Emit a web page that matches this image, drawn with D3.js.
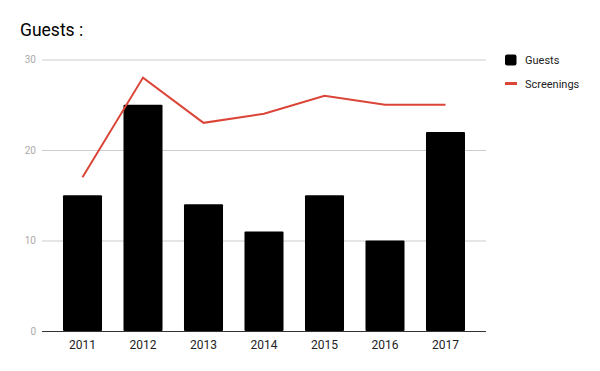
<!DOCTYPE html>
<html>
<head>
<meta charset="utf-8">
<script src="https://cdn.jsdelivr.net/npm/d3@7"></script>
<style>
  body { margin: 0; background: #fff; }
  text { font-family: Roboto, Arial, sans-serif; }
</style>
</head>
<body>
<svg id="chart" width="600" height="371"></svg>
<script>
// Chart data
var years = ['2011', '2012', '2013', '2014', '2015', '2016', '2017'],
    guests = [15, 25, 14, 11, 15, 10, 22],
    screenings = [17, 28, 23, 24, 26, 25, 25],
    yTicks = [0, 10, 20, 30]

var svg = d3.select('#chart')

var plotLeft = 42,
    plotRight = 486,
    plotTop = 59.5,
    plotBottom = 331

var xScale = d3.scaleBand().domain(years).range([plotLeft, plotRight]).paddingInner(0.355).paddingOuter(0.347),
    yScale = d3.scaleLinear().domain([0, 30]).range([plotBottom, plotTop])

// Title
svg.append('text')
    .attr('x', 20)
    .attr('y', 36)
    .style('font-size', '17.5px')
    .style('fill', '#000')
    .text('Guests :')

// Gridlines
var yAxis = svg.append('g')
    .attr('transform', `translate(${plotLeft},0)`)
    .call(d3.axisLeft(yScale).tickValues(yTicks).tickSize(-(plotRight - plotLeft)).tickPadding(6))

yAxis.select('.domain').remove()
yAxis.selectAll('line').attr('stroke', '#cccccc')
yAxis.selectAll('text')
    .style('font-size', '10px')
    .style('fill', '#aaaaaa')
    .style('font-family', 'Roboto, Arial, sans-serif')

// Bars
svg.append('g')
    .selectAll('rect')
    .data(guests)
    .enter()
    .append('rect')
    .attr('x', (d, i) => xScale(years[i]))
    .attr('width', xScale.bandwidth())
    .attr('y', d => yScale(d))
    .attr('height', d => plotBottom - yScale(d))
    .attr('rx', 1)
    .attr('fill', '#000')

// Baseline
svg.append('line')
    .attr('x1', plotLeft)
    .attr('x2', plotRight)
    .attr('y1', plotBottom + 0.5)
    .attr('y2', plotBottom + 0.5)
    .attr('stroke', '#333')
    .attr('stroke-width', 1)

// X labels
var xAxis = svg.append('g')
    .attr('transform', `translate(0,${plotBottom})`)
    .call(d3.axisBottom(xScale).tickSize(0).tickPadding(9))

xAxis.select('.domain').remove()
xAxis.selectAll('text')
    .style('font-size', '12px')
    .style('fill', '#222')
    .style('font-family', 'Roboto, Arial, sans-serif')

// Screenings line
var line = d3.line()
    .x((d, i) => xScale(years[i]) + xScale.bandwidth() / 2)
    .y(d => yScale(d))

svg.append('path')
    .datum(screenings)
    .attr('d', line)
    .attr('fill', 'none')
    .attr('stroke', '#db4437')
    .attr('stroke-width', 2)

// Legend
var legend = svg.append('g').attr('transform', 'translate(505,0)')

legend.append('rect')
    .attr('x', 0)
    .attr('y', 54.5)
    .attr('width', 11.5)
    .attr('height', 11)
    .attr('rx', 2)
    .attr('fill', '#000')

legend.append('text')
    .attr('x', 20)
    .attr('y', 64)
    .style('font-size', '11px')
    .style('fill', '#222')
    .text('Guests')

legend.append('rect')
    .attr('x', 0)
    .attr('y', 82)
    .attr('width', 12)
    .attr('height', 3)
    .attr('fill', '#db4437')

legend.append('text')
    .attr('x', 20)
    .attr('y', 88)
    .style('font-size', '11px')
    .style('fill', '#222')
    .text('Screenings')
</script>
</body>
</html>
